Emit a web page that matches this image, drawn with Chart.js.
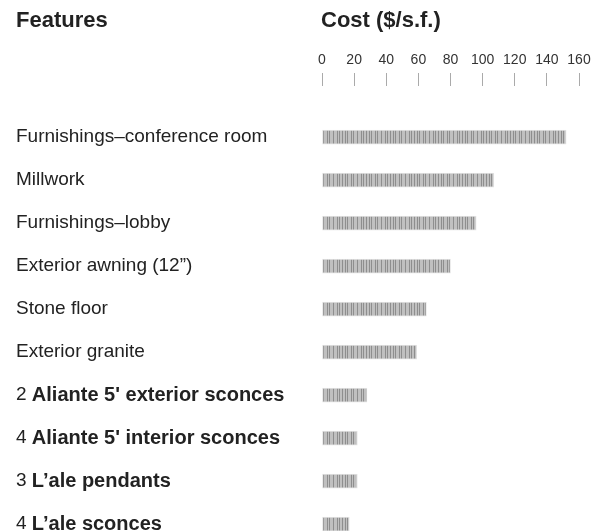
<!DOCTYPE html>
<html>
<head>
<meta charset="utf-8">
<script src="https://cdn.jsdelivr.net/npm/chart.js@4"></script>
<style>
  html, body { margin: 0; padding: 0; background: #fff; }
  #wrap { width: 615px; height: 531px; position: relative; }
</style>
</head>
<body>
<div id="wrap"><canvas id="c"></canvas></div>
<script>
// ---- data ----
const counts = ["", "", "", "", "", "", "2", "4", "3", "4"];
const features = [
  "Furnishings\u2013conference room",
  "Millwork",
  "Furnishings\u2013lobby",
  "Exterior awning (12\u201d)",
  "Stone floor",
  "Exterior granite",
  "Aliante 5' exterior sconces",
  "Aliante 5' interior sconces",
  "L\u2019ale pendants",
  "L\u2019ale sconces"
];
const boldName = [false, false, false, false, false, false, true, true, true, true];
const costs = [152, 107, 96, 80, 65, 59, 28, 22, 22, 17];
const costTicks = [0, 20, 40, 60, 80, 100, 120, 140, 160];
const headerLeft = "Features";
const headerRight = "Cost ($/s.f.)";

const FONT = "'Liberation Sans', Arial, Helvetica, sans-serif";

// striped (barcode-like) fill pattern
function makePattern() {
  const pc = document.createElement('canvas');
  pc.width = 24; pc.height = 4;
  const g = pc.getContext('2d');
  g.fillStyle = '#c0c0c0';
  g.fillRect(0, 0, 24, 4);
  g.fillStyle = '#8e8e8e';
  [1, 3, 6, 9, 11, 15, 17, 21].forEach(x => g.fillRect(x, 0, 1, 4));
  return g.createPattern(pc, 'repeat');
}
const pattern = makePattern();

const labelPlugin = {
  id: 'rowLabels',
  afterDraw(chart) {
    const ctx = chart.ctx;
    const ys = chart.scales.y;
    ctx.save();
    ctx.fillStyle = '#222';
    ctx.textBaseline = 'middle';
    ctx.textAlign = 'left';
    // headers
    ctx.font = "bold 22px " + FONT;
    ctx.fillText(headerLeft, 16, 21);
    ctx.fillText(headerRight, chart.scales.x.getPixelForValue(0) - 1, 21);
    // row labels
    features.forEach((name, i) => {
      const y = ys.getPixelForValue(i);
      let x = 16;
      if (counts[i]) {
        ctx.font = "19px " + FONT;
        const pre = counts[i] + " ";
        ctx.fillText(pre, x, y);
        x += ctx.measureText(pre).width;
      }
      ctx.font = boldName[i] ? ("bold 20px " + FONT) : ("19px " + FONT);
      ctx.fillText(name, x, y);
    });
    ctx.restore();
  }
};

new Chart(document.getElementById('c'), {
  type: 'bar',
  data: {
    datasets: [{
      data: costs.map((v, i) => ({ x: v, y: i })),
      backgroundColor: pattern,
      borderColor: '#e4e4e4',
      borderWidth: 1,
      borderSkipped: false,
      barThickness: 14
    }]
  },
  options: {
    indexAxis: 'y',
    responsive: true,
    maintainAspectRatio: false,
    animation: false,
    layout: { padding: { left: 322, right: 36, top: 0, bottom: 0 } },
    plugins: { legend: { display: false }, tooltip: { enabled: false } },
    scales: {
      x: {
        type: 'linear',
        position: 'top',
        min: costTicks[0],
        max: costTicks[costTicks.length - 1],
        afterBuildTicks(s) { s.ticks = costTicks.map(v => ({ value: v })); },
        afterFit(s) { s.height = 86; },
        grid: { drawOnChartArea: false, drawTicks: true, tickLength: 13, tickColor: '#aaaaaa', lineWidth: 1 },
        border: { display: false },
        ticks: { font: { size: 14, family: FONT }, color: '#333', padding: 4, maxRotation: 0, autoSkip: false }
      },
      y: {
        type: 'linear',
        reverse: true,
        offset: false,
        grid: { offset: false, display: false },
        min: -1.19,
        max: 9.16,
        display: false
      }
    }
  },
  plugins: [labelPlugin]
});
</script>
</body>
</html>
